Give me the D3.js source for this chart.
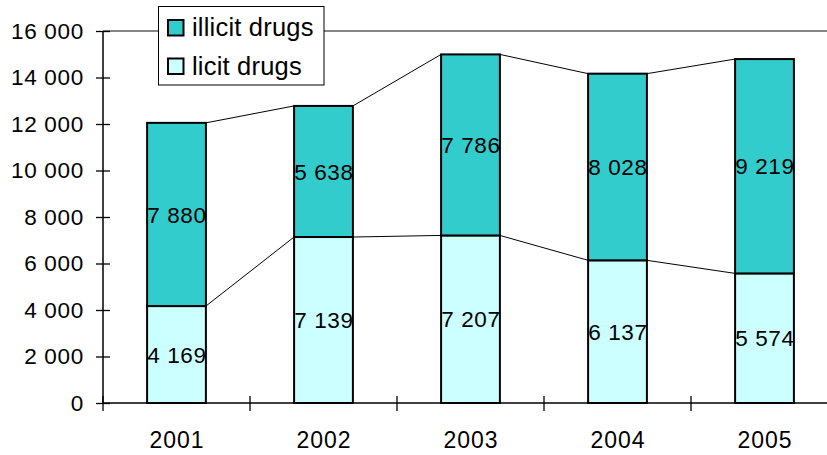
<!DOCTYPE html>
<html>
<head>
<meta charset="utf-8">
<script src="https://cdn.jsdelivr.net/npm/d3@7/dist/d3.min.js"></script>
<style>
  html, body { margin: 0; padding: 0; background: #fff; }
  svg { display: block; font-family: "Liberation Sans", Arial, Helvetica, sans-serif; }
</style>
</head>
<body>
<svg id="chart" width="827" height="455"></svg>
<script>
const years = ["2001", "2002", "2003", "2004", "2005"];
const licit = [4169, 7139, 7207, 6137, 5574];
const illicit = [7880, 5638, 7786, 8028, 9219];
const yTicks = [0, 2000, 4000, 6000, 8000, 10000, 12000, 14000, 16000];
const seriesNames = ["illicit drugs", "licit drugs"];
const colors = { licit: "#CCFFFF", illicit: "#33CCCC" };

(function () {
const svg = d3.select("#chart");
const pLeft = 103, pRight = 838, pTop = 31, pBottom = 403;

const locale = d3.formatLocale({ decimal: ".", thousands: "\u00a0", grouping: [3], currency: ["", ""] });
const fmt = locale.format(",");

const y = d3.scaleLinear().domain([0, 16000]).range([pBottom, pTop]);
const xOuter = d3.scaleBand().domain(years).range([pLeft, pRight]);
const x = d3.scaleBand().domain(years).range([pLeft, pRight]).paddingInner(0.6).paddingOuter(0.3);

const data = years.map((yr, i) => ({ year: yr, licit: licit[i], illicit: illicit[i] }));
const stack = d3.stack().keys(["licit", "illicit"])(data);

// top border line of plot area (grey)
svg.append("line")
  .attr("x1", pLeft).attr("x2", 827)
  .attr("y1", y(16000)).attr("y2", y(16000))
  .attr("stroke", "#858585").attr("stroke-width", 2);

// connector (series) lines
stack.forEach(s => {
  for (let i = 0; i < years.length - 1; i++) {
    svg.append("line")
      .attr("x1", x(years[i]) + x.bandwidth()).attr("y1", y(s[i][1]))
      .attr("x2", x(years[i + 1])).attr("y2", y(s[i + 1][1]))
      .attr("stroke", "#000").attr("stroke-width", 1);
  }
});

// bars
stack.forEach(s => {
  svg.append("g").selectAll("rect").data(s).join("rect")
    .attr("x", d => x(d.data.year))
    .attr("y", d => y(d[1]))
    .attr("width", x.bandwidth())
    .attr("height", d => y(d[0]) - y(d[1]))
    .attr("fill", colors[s.key])
    .attr("stroke", "#000").attr("stroke-width", 2);
});

// data labels
stack.forEach(s => {
  svg.append("g").selectAll("text").data(s).join("text")
    .attr("x", d => x(d.data.year) + x.bandwidth() / 2 + 0.4)
    .attr("y", d => y((d[0] + d[1]) / 2))
    .attr("dy", "0.36em")
    .attr("text-anchor", "middle")
    .attr("font-size", 22.5)
    .attr("letter-spacing", 0.6)
    .attr("fill", "#000")
    .text(d => fmt(d.data[s.key]));
});

// y axis
const yAxis = d3.axisLeft(y).tickValues(yTicks).tickFormat(fmt).tickSize(0).tickPadding(19);
const gy = svg.append("g").attr("transform", `translate(${pLeft},0)`).call(yAxis);
gy.select(".domain").remove();
gy.selectAll("text").attr("font-size", 22.5).attr("letter-spacing", 0.7).attr("fill", "#000");
gy.attr("font-family", null).attr("font-size", null);
gy.selectAll(".tick").append("line").attr("x1", -7).attr("x2", 7).attr("stroke", "#000").attr("stroke-width", 1.3);
svg.append("line").attr("x1", pLeft).attr("x2", pLeft).attr("y1", pTop).attr("y2", pBottom)
  .attr("stroke", "#000").attr("stroke-width", 1.5);

// x axis
const xAxis = d3.axisBottom(xOuter).tickSize(0).tickPadding(29);
const gx = svg.append("g").attr("transform", `translate(0,${pBottom})`).call(xAxis);
gx.select(".domain").remove();
gx.selectAll("text").attr("font-size", 23).attr("letter-spacing", 1).attr("dx", 0.5).attr("fill", "#000");
gx.attr("font-family", null).attr("font-size", null);
svg.append("line").attr("x1", pLeft).attr("x2", 827).attr("y1", pBottom).attr("y2", pBottom)
  .attr("stroke", "#000").attr("stroke-width", 1.5);
const boundaries = years.map(yr => xOuter(yr));
svg.append("g").selectAll("line").data(boundaries).join("line")
  .attr("x1", d => d).attr("x2", d => d)
  .attr("y1", pBottom - 7).attr("y2", pBottom + 8)
  .attr("stroke", "#000").attr("stroke-width", 1.3);

// legend
const lg = svg.append("g");
lg.append("rect").attr("x", 158.5).attr("y", 6.5).attr("width", 165.5).attr("height", 78.5)
  .attr("fill", "#fff").attr("stroke", "#000").attr("stroke-width", 1);
const legendItems = [
  { name: seriesNames[0], color: colors.illicit },
  { name: seriesNames[1], color: colors.licit }
];
legendItems.forEach((it, i) => {
  const yy = 20 + i * 38.5;
  lg.append("rect").attr("x", 168).attr("y", yy).attr("width", 15.5).attr("height", 15.5)
    .attr("fill", it.color).attr("stroke", "#000").attr("stroke-width", 2);
  lg.append("text").attr("x", 192).attr("y", yy + 16).attr("font-size", 25.5).attr("letter-spacing", 0.2).attr("fill", "#000")
    .text(it.name);
});
})();
</script>
</body>
</html>
